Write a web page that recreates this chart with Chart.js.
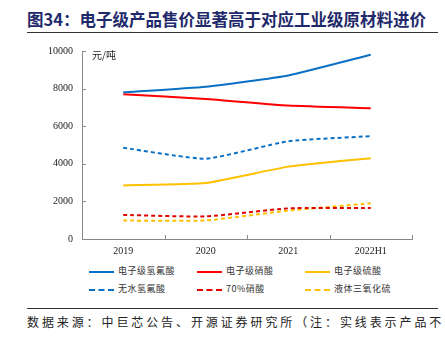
<!DOCTYPE html>
<html>
<head>
<meta charset="utf-8">
<script src="https://cdn.jsdelivr.net/npm/chart.js@4/dist/chart.umd.min.js"></script>
<style>
  body { margin: 0; background: #fff; width: 445px; height: 337px; position: relative; overflow: hidden; font-family: "Noto Sans CJK SC", sans-serif; }
  #title { position: absolute; left: 27px; top: 7px; font-size: 16.5px; font-weight: bold; color: #1f2a6b; white-space: nowrap; }
  #topline { position: absolute; left: 27px; top: 32px; width: 411px; height: 1px; background: #333; }
  #chartBox { position: absolute; left: 0; top: 36px; width: 445px; height: 222px; }
  #unit { position: absolute; left: 92px; top: 47px; font-size: 10px; color: #222; }
  #legend { position: absolute; left: 0; top: 263px; width: 445px; height: 40px; }
  .item { position: absolute; height: 16px; font-size: 9px; color: #333; letter-spacing: 0.5px; white-space: nowrap; }
  .swatch { position: absolute; left: 0; top: 8px; width: 25px; height: 0; }
  .item span { position: absolute; left: 29px; top: 1px; }
  #botline { position: absolute; left: 27px; top: 308px; width: 411px; height: 1px; background: #333; }
  #source { position: absolute; left: 27px; top: 313px; font-size: 12px; color: #222; letter-spacing: 2.9px; white-space: nowrap; }
</style>
</head>
<body>
<div id="title">图34：电子级产品售价显著高于对应工业级原材料进价</div>
<div id="topline"></div>
<div id="chartBox"><canvas id="priceChart" width="445" height="222"></canvas></div>
<div id="unit">元/吨</div>
<div id="legend"></div>
<div id="botline"></div>
<div id="source">数据来源：中巨芯公告、开源证券研究所（注：实线表示产品不</div>
<script>
// categories and values (元/吨)
const years = ['2019', '2020', '2021', '2022H1'];
const yTicks = [0, 2000, 4000, 6000, 8000, 10000];

const eHF = [7800, 8100, 8700, 9800];       // 电子级氢氟酸
const eHNO3 = [7700, 7450, 7100, 6950];     // 电子级硝酸
const eH2SO4 = [2850, 2980, 3850, 4300];    // 电子级硫酸
const aHF = [4850, 4270, 5200, 5470];       // 无水氢氟酸
const hno3_70 = [1280, 1200, 1630, 1650];   // 70%硝酸
const so3 = [980, 990, 1510, 1900];         // 液体三氧化硫

const names = ['电子级氢氟酸', '电子级硝酸', '电子级硫酸', '无水氢氟酸', '70%硝酸', '液体三氧化硫'];
const series = [eHF, eHNO3, eH2SO4, aHF, hno3_70, so3];
const colors = ['#0a70c4', '#ff0000', '#ffc000', '#0a70c4', '#e00000', '#ffc000'];
const dashed = [false, false, false, true, true, true];

const datasets = series.map(function (vals, i) {
    return {
        label: names[i],
        data: vals,
        borderColor: colors[i],
        backgroundColor: colors[i],
        borderWidth: 2,
        borderDash: dashed[i] ? [4, 3] : [],
        pointRadius: 0,
        fill: false,
        tension: 0.15
    };
});

// little inward tick marks, like the original
const innerTicks = {
    id: 'innerTicks',
    afterDraw: function (chart) {
        const ctx = chart.ctx;
        const x = chart.scales.x, y = chart.scales.y;
        ctx.save();
        ctx.strokeStyle = '#888';
        ctx.lineWidth = 1;
        ctx.beginPath();
        yTicks.forEach(function (v) {
            const py = Math.round(y.getPixelForValue(v)) + 0.5;
            ctx.moveTo(x.left, py);
            ctx.lineTo(x.left + 4, py);
        });
        const step = (x.right - x.left) / years.length;
        for (let i = 0; i <= years.length; i++) {
            const px = Math.round(x.getPixelForValue(0) - step / 2 + i * step) + 0.5;
            ctx.moveTo(px, y.bottom);
            ctx.lineTo(px, y.bottom - 4);
        }
        ctx.stroke();
        ctx.restore();
    }
};

const ctxPrice = document.getElementById('priceChart').getContext('2d');
new Chart(ctxPrice, {
    type: 'line',
    data: { labels: years, datasets: datasets },
    options: {
        responsive: false,
        animation: false,
        layout: { padding: { left: 0, right: 33, top: 11, bottom: 0 } },
        scales: {
            x: {
                offset: true,
                grid: { display: false, drawTicks: false },
                border: { display: true, color: '#888', width: 1 },
                ticks: { color: '#222', padding: 6, font: { family: 'Liberation Serif', size: 10 } },
                afterFit: function (scale) { scale.height = 19; }
            },
            y: {
                min: 0,
                max: 10000,
                afterBuildTicks: function (scale) {
                    scale.ticks = yTicks.map(function (v) { return { value: v }; });
                },
                grid: { display: false, drawTicks: false },
                border: { display: true, color: '#888', width: 1 },
                ticks: {
                    color: '#222',
                    padding: 9,
                    font: { family: 'Liberation Serif', size: 10 },
                    callback: function (value) { return String(value); }
                },
                afterFit: function (scale) { scale.width = 82; }
            }
        },
        plugins: {
            legend: { display: false },
            tooltip: { enabled: false }
        }
    },
    plugins: [innerTicks]
});

// legend in 3 columns x 2 rows
const legend = document.getElementById('legend');
const colX = [89, 197, 305];
names.forEach(function (name, i) {
    const item = document.createElement('div');
    item.className = 'item';
    item.style.left = colX[i % 3] + 'px';
    item.style.top = (Math.floor(i / 3) * 18) + 'px';
    const sw = document.createElement('div');
    sw.className = 'swatch';
    sw.style.borderTop = '2px ' + (dashed[i] ? 'dashed ' : 'solid ') + colors[i];
    const txt = document.createElement('span');
    txt.textContent = name;
    item.appendChild(sw);
    item.appendChild(txt);
    legend.appendChild(item);
});
</script>
</body>
</html>
